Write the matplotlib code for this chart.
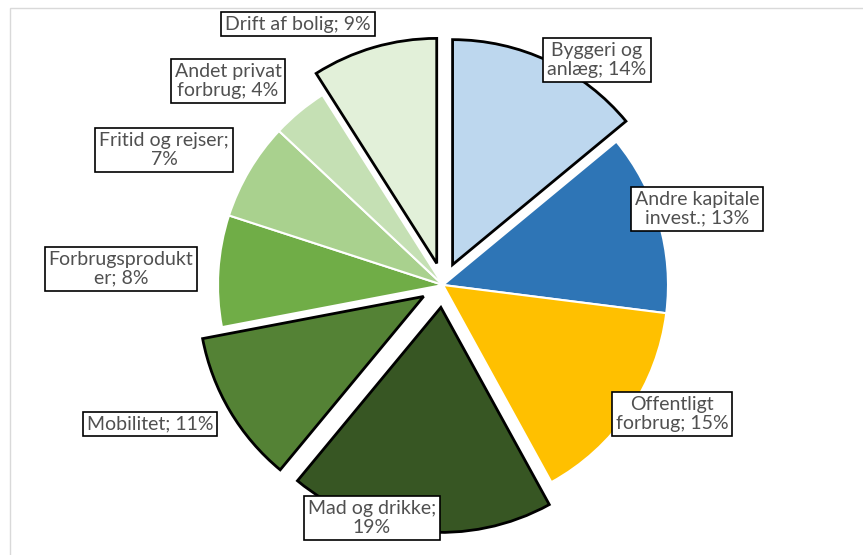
import matplotlib.pyplot as plt
from matplotlib.patches import Rectangle

# data, clockwise from 12 o'clock
labels = ['Byggeri og\nanlæg', 'Andre kapitale\ninvest.', 'Offentligt\nforbrug',
          'Mad og drikke;\n', 'Mobilitet', 'Forbrugsprodukt\ner', 'Fritid og rejser;\n',
          'Andet privat\nforbrug', 'Drift af bolig']
shares = [14, 13, 15, 19, 11, 8, 7, 4, 9]
highlight = [True, False, False, True, True, False, False, False, True]

colors = ['#BDD7EE', '#2E75B6', '#FFC000', '#375623', '#548235',
          '#70AD47', '#A9D18E', '#C5E0B4', '#E2F0D9']

# label box centres in pixels (from top-left)
label_px = [(597, 60), (697, 209), (672, 414), (372, 518), (150, 424),
            (121, 269), (164, 150), (228, 81), (298, 24)]

W, H = 863, 555
cx, cy, R = 443, 285, 225

fig = plt.figure(figsize=(W / 100, H / 100), dpi=100)
ax = fig.add_axes([0, 0, 1, 1])

explode = [0.1 if h else 0 for h in highlight]
wedges, _ = ax.pie(shares, colors=colors, explode=explode, startangle=90,
                   counterclock=False, radius=1)
for w, h in zip(wedges, highlight):
    if h:
        w.set_edgecolor('black')
        w.set_linewidth(2)
        w.set_zorder(3)
    else:
        w.set_edgecolor('white')
        w.set_linewidth(1.5)

for lab, val, (px, py) in zip(labels, shares, label_px):
    if lab.endswith('\n'):
        txt = f'{lab}{val}%'
    else:
        txt = f'{lab}; {val}%'
    ax.text((px - cx) / R, (cy - py) / R, txt, ha='center', va='center',
            fontsize=14, family='Lato', color='#505050', linespacing=1.1,
            multialignment='center', zorder=5,
            bbox=dict(boxstyle='square,pad=0.2', fc='white', ec='black', lw=1.2))

ax.set_xlim(-cx / R, (W - cx) / R)
ax.set_ylim(-(H - cy) / R, cy / R)
ax.set_aspect('auto')
ax.axis('off')

# faint outer frame
fig.add_artist(Rectangle((10 / W, -0.1), 1.2, (H - 8) / H + 0.1, transform=fig.transFigure,
                         fill=False, ec='#D9D9D9', lw=1))

fig.savefig('out.png', dpi=100)
